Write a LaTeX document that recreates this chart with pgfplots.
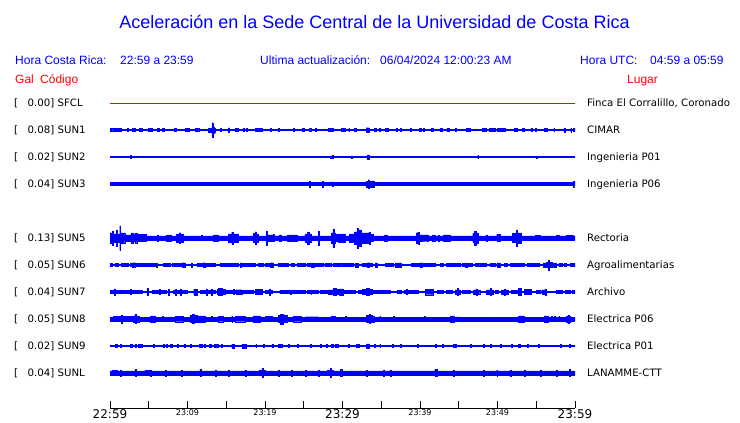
\documentclass[border=0pt]{standalone}
\usepackage{fontspec}
\setmainfont{Liberation Sans}
\newfontfamily\dejavu{DejaVu Sans}
\usepackage{pgfplots}
\usepackage{pgfplotstable}
\pgfplotsset{compat=1.18}
\usepgfplotslibrary{fillbetween}
\definecolor{tblue}{RGB}{0,0,255}
\definecolor{tred}{RGB}{255,0,0}

% envelopes: t = minutes after 22:59, a = half amplitude (px) held until next row
\pgfplotstableread[row sep=\\]{
t a\\ 0 1.6\\ 0.35 0.4\\ 0.6 1.6\\ 1.4 0.4\\ 2.2 1.6\\ 2.35 0.4\\ 2.85 1.6\\ 3.25 0.4\\ 3.8 1.6\\ 4.15 0.4\\
4.95 1.6\\ 5.45 0.4\\ 6.1 1.6\\ 6.35 0.4\\ 6.75 1.6\\ 7.0 0.4\\ 8.3 1.6\\ 8.6 0.4\\ 9.65 1.6\\ 10.2 0.4\\
11.0 1.6\\ 11.45 0.4\\ 12.7 1.8\\ 13.15 7.3\\ 13.27 1.8\\ 13.4 3\\ 13.5 1.8\\ 13.55 0.4\\ 14.25 1.6\\ 14.35 0.4\\
15.3 2.3\\ 15.42 0.4\\ 16.2 1.6\\ 16.6 0.4\\ 17.15 1.6\\ 17.25 0.4\\ 17.55 1.6\\ 17.65 0.4\\ 18.75 1.6\\ 19.65 0.4\\
20.65 1.6\\ 20.75 0.4\\ 21.75 1.6\\ 21.85 0.4\\ 23.65 1.6\\ 23.75 0.4\\ 24.75 1.6\\ 25.05 0.4\\ 25.7 1.6\\ 25.9 0.4\\
26.45 1.6\\ 26.55 0.4\\ 28.1 1.6\\ 28.75 0.4\\ 29.85 1.6\\ 30.4 0.4\\ 30.8 1.6\\ 30.9 0.4\\ 31.5 1.6\\ 31.7 0.4\\
33.05 2.3\\ 33.45 0.4\\ 34.1 1.6\\ 34.3 0.4\\ 34.7 1.6\\ 34.9 0.4\\ 35.5 1.6\\ 35.9 0.4\\ 36.95 1.6\\ 37.1 0.4\\
37.45 1.6\\ 37.55 0.4\\ 38.75 1.6\\ 38.85 0.4\\ 39.9 1.6\\ 40.1 0.4\\ 40.45 1.6\\ 40.55 0.4\\ 41.5 1.6\\ 41.7 0.4\\
42.55 1.6\\ 42.9 0.4\\ 43.45 1.6\\ 43.75 0.4\\ 44.55 1.6\\ 44.65 0.4\\ 46.0 1.6\\ 46.5 0.4\\ 48.0 1.6\\ 48.6 0.4\\
48.9 1.6\\ 49.7 0.4\\ 50.0 1.6\\ 50.95 0.4\\ 52.1 1.6\\ 52.5 0.4\\ 53.2 1.6\\ 53.4 0.4\\ 54.3 1.6\\ 54.5 0.4\\
54.9 1.6\\ 55.0 0.4\\ 56.05 1.6\\ 56.4 0.4\\ 57.25 1.6\\ 57.35 0.4\\ 58.55 2\\ 58.67 0.4\\ 59.45 2\\ 59.57 0.4\\
59.8 1.6\\ 60 1.6\\
}\sunone

\pgfplotstableread[row sep=\\]{
t a\\ 0 0.4\\ 2.65 1.5\\ 2.77 0.4\\ 28.4 1.2\\ 28.52 0.4\\ 28.65 1.5\\ 28.77 0.4\\ 31.15 1.2\\ 31.27 0.4\\
33.15 2\\ 33.45 0.4\\ 47.45 1.6\\ 47.57 0.4\\ 55.05 1.2\\ 55.17 0.4\\ 60 0.4\\
}\suntwo

\pgfplotstableread[row sep=\\]{
t a\\ 0 1.5\\ 25.75 2.7\\ 25.87 1.5\\ 27.35 2.7\\ 27.47 1.5\\ 28.65 2.3\\ 28.77 1.5\\ 33.0 2.8\\ 33.3 4.3\\
33.42 2.8\\ 33.8 3.2\\ 34.1 1.5\\ 59.8 2.7\\ 60 2.7\\
}\sunthree

\pgfplotstableread[row sep=\\]{
t a\\ 0 5\\ 0.3 7\\ 0.45 4\\ 0.8 8\\ 0.92 4\\ 1.25 12.3\\ 1.37 5\\ 1.9 3\\ 2.7 5\\ 3.0 3.5\\ 3.2 5\\ 3.45 3.5\\
4.7 2.2\\ 6.15 3\\ 6.27 2.2\\ 7.3 3\\ 7.9 2.2\\ 8.6 4\\ 8.95 5.3\\ 9.1 4\\ 9.5 2.2\\ 11.8 2.6\\ 11.92 2.2\\
13.3 3\\ 14.0 2.2\\ 15.3 4\\ 15.7 6\\ 15.85 4\\ 16.6 2.2\\ 18.5 4.5\\ 18.75 6.3\\ 18.9 4\\ 19.1 2.2\\ 20.15 7\\
20.27 3\\ 21.0 3.5\\ 21.2 2.2\\ 21.8 3\\ 22.1 2.2\\ 22.9 3\\ 24.1 2.2\\ 25.15 4\\ 25.5 6\\ 25.65 4\\ 26.0 2.2\\
26.85 7\\ 26.97 2.2\\ 28.55 5\\ 28.75 9\\ 28.87 5\\ 29.1 3.5\\ 29.5 4\\ 30.3 2.2\\ 30.9 4\\ 31.5 6\\ 31.85 10\\
32.0 8\\ 32.4 5\\ 33.4 6\\ 33.52 3.5\\ 34.0 2.2\\ 35.4 3\\ 35.7 2.2\\ 39.5 5\\ 39.7 6\\ 39.85 3\\ 40.8 3\\
41.1 2.2\\ 41.6 3\\ 41.9 2.2\\ 42.3 3\\ 42.5 2.2\\ 43.0 3\\ 43.9 2.2\\ 46.8 4.5\\ 47.05 7\\ 47.2 5\\ 47.5 2.2\\
48.5 3\\ 48.7 2.2\\ 49.9 3.5\\ 50.3 2.2\\ 51.9 4.5\\ 52.4 8\\ 52.55 5\\ 53.1 2.2\\ 54.9 2.6\\ 55.5 2.2\\
57.6 2.6\\ 58.0 2.2\\ 58.9 2.6\\ 59.8 2.2\\ 60 2.2\\
}\sunfive

\pgfplotstableread[row sep=\\]{
t a\\ 0 1.5\\ 0.3 0.5\\ 0.65 1.5\\ 1.1 0.5\\ 1.45 1.5\\ 2.3 0.5\\ 2.6 1.5\\ 2.9 2.3\\ 3.3 1.5\\ 4.1 0.5\\
4.3 1.5\\ 5.8 0.5\\ 6.0 2\\ 6.12 0.5\\ 6.9 1.5\\ 7.7 0.5\\ 8.0 1.5\\ 9.3 2.3\\ 9.7 0.5\\ 10.5 1.8\\ 10.62 0.5\\
11.2 1.5\\ 12.0 2.3\\ 12.3 1.5\\ 13.6 0.5\\ 14.2 1.5\\ 16.6 0.5\\ 16.8 2.3\\ 16.92 1.5\\ 18.3 0.5\\ 18.5 1.5\\
18.7 0.5\\ 19.1 1.5\\ 19.8 0.5\\ 20.0 1.5\\ 20.7 2.3\\ 21.0 0.5\\ 21.7 1.5\\ 23.0 0.5\\ 23.4 1.5\\ 23.8 0.5\\
24.2 1.5\\ 25.2 0.5\\ 25.4 1.5\\ 26.0 2\\ 26.3 1.5\\ 26.7 0.5\\ 26.9 1.5\\ 27.5 0.5\\ 27.7 1.5\\ 28.6 0.5\\
28.8 1.5\\ 29.9 0.5\\ 30.0 1.5\\ 31.4 0.5\\ 31.6 1.8\\ 32.0 0.5\\ 32.5 1.5\\ 33.2 2.3\\ 33.5 1.5\\ 33.8 0.5\\
34.2 2\\ 34.5 0.5\\ 35.5 1.5\\ 36.6 0.5\\ 36.8 2\\ 37.6 0.5\\ 38.9 1.5\\ 40.0 2.3\\ 40.3 1.5\\ 40.9 0.5\\
41.1 1.5\\ 41.9 0.5\\ 42.6 1.5\\ 43.0 0.5\\ 43.4 1.5\\ 44.1 0.5\\ 44.3 1.5\\ 45.2 0.5\\ 45.4 1.5\\ 45.8 2\\
46.1 1.5\\ 46.7 0.5\\ 47.1 1.5\\ 47.7 0.5\\ 47.9 1.5\\ 48.6 0.5\\ 49.0 1.5\\ 49.7 0.5\\ 49.9 2\\ 50.3 0.5\\
50.9 1.5\\ 51.2 0.5\\ 51.6 1.5\\ 52.0 0.5\\ 52.2 1.5\\ 53.5 0.5\\ 53.8 1.5\\ 54.2 0.5\\ 54.4 1.5\\ 55.4 0.5\\
55.9 2\\ 56.3 2.5\\ 56.6 5\\ 56.72 2.5\\ 57.0 2\\ 57.6 0.5\\ 57.9 1.5\\ 58.3 0.5\\ 58.65 1.5\\ 58.8 0.5\\
59.4 1.5\\ 60 1.5\\
}\sunsix

\pgfplotstableread[row sep=\\]{
t a\\ 0 1.65\\ 0.4 0.5\\ 0.5 3\\ 0.62 0.5\\ 0.65 1.65\\ 2.55 2.5\\ 2.67 1.65\\ 4.1 0.5\\ 4.75 3.5\\ 4.87 0.5\\
5.4 1.65\\ 5.8 0.5\\ 6.0 1.65\\ 6.4 2.5\\ 6.52 1.65\\ 7.3 0.5\\ 7.55 3\\ 7.67 0.5\\ 8.2 1.65\\ 8.4 2.7\\
8.52 1.65\\ 9.0 2.7\\ 9.12 1.65\\ 9.9 0.5\\ 10.8 2.8\\ 11.2 0.5\\ 11.6 1.65\\ 12.4 3\\ 12.52 1.65\\ 13.0 3\\
13.12 1.65\\ 13.6 0.5\\ 13.8 2.5\\ 14.0 3.5\\ 14.5 2.5\\ 14.8 1.65\\ 15.9 2.5\\ 16.02 1.65\\ 16.1 0.5\\ 16.3 2.3\\
17.0 0.5\\ 17.2 1.65\\ 18.5 0.5\\ 18.7 2.5\\ 19.6 0.5\\ 20.0 1.65\\ 20.6 3\\ 20.72 1.65\\ 20.9 0.5\\ 21.9 1.65\\
23.2 2\\ 23.32 1.65\\ 25.2 0.5\\ 25.4 1.65\\ 25.9 2\\ 26.02 1.65\\ 26.9 0.5\\ 27.1 1.65\\ 28.0 0.5\\ 28.2 2\\
28.8 3.5\\ 29.2 2.5\\ 29.6 3\\ 30.1 1.65\\ 31.6 0.5\\ 32.0 1.65\\ 32.5 2.5\\ 33.0 3.5\\ 33.5 2.5\\ 33.8 0.5\\
34.0 1.65\\ 36.1 0.5\\ 37.0 1.65\\ 37.6 0.5\\ 37.9 1.65\\ 38.2 2.5\\ 38.35 1.65\\ 38.7 0.5\\ 38.9 1.65\\ 39.8 0.5\\
40.7 2.7\\ 41.7 0.5\\ 42.2 1.65\\ 43.0 0.5\\ 43.4 1.65\\ 44.1 0.5\\ 44.5 2\\ 44.8 3.5\\ 44.92 2\\ 45.2 0.5\\
45.4 1.65\\ 46.5 0.5\\ 46.9 2\\ 47.2 3\\ 47.32 2\\ 47.7 0.5\\ 48.6 2\\ 49.0 3.5\\ 49.12 2\\ 49.5 0.5\\
49.7 1.65\\ 50.1 0.5\\ 50.5 2\\ 50.9 3\\ 51.02 2\\ 51.4 0.5\\ 51.8 1.65\\ 52.5 0.5\\ 52.7 3.5\\ 53.1 0.5\\
53.5 2.5\\ 54.4 0.5\\ 55.0 1.65\\ 55.5 0.5\\ 55.7 2\\ 56.1 3\\ 56.22 2\\ 56.3 0.5\\ 57.6 1.65\\ 58.3 0.5\\
58.7 1.65\\ 59.4 0.5\\ 59.6 1.65\\ 60 1.65\\
}\sunseven

\pgfplotstableread[row sep=\\]{
t a\\ 0 1.8\\ 0.4 2.5\\ 1.4 4\\ 1.52 2.5\\ 2.8 1.8\\ 3.0 3\\ 3.2 4.5\\ 3.32 3\\ 3.7 1.8\\ 5.2 3\\ 5.8 1.8\\
6.7 2.5\\ 6.82 1.8\\ 7.8 2.2\\ 7.92 1.8\\ 8.4 2.7\\ 9.5 1.8\\ 10.3 3.5\\ 10.6 4.5\\ 10.9 3.5\\ 11.2 3\\ 12.3 1.8\\
13.0 2.5\\ 13.12 1.8\\ 14.0 2.7\\ 14.6 1.8\\ 15.7 3\\ 15.82 1.8\\ 16.1 2.7\\ 17.4 1.8\\ 18.5 3\\ 19.4 1.8\\
20.0 2.5\\ 20.9 1.8\\ 21.7 3.5\\ 22.0 4.8\\ 22.4 3.5\\ 22.8 1.8\\ 23.6 2.7\\ 24.7 1.8\\ 25.2 2.3\\ 26.9 1.8\\
28.6 2.5\\ 29.0 1.8\\ 30.4 2.5\\ 30.52 1.8\\ 31.85 2.2\\ 32.0 1.8\\ 33.1 3.5\\ 33.4 4.5\\ 33.52 3.5\\ 33.8 1.8\\
34.0 2.8\\ 34.12 1.8\\ 34.8 2.5\\ 34.92 1.8\\ 36.6 2.5\\ 36.72 1.8\\ 39.6 2.2\\ 39.72 1.8\\ 40.6 2.5\\ 40.72 1.8\\
43.9 3\\ 44.4 1.8\\ 44.8 2.3\\ 44.92 1.8\\ 49.3 2.2\\ 49.42 1.8\\ 52.7 3\\ 53.4 1.8\\ 56.0 3\\ 56.6 1.8\\
56.95 2.5\\ 57.07 1.8\\ 57.3 2.5\\ 57.42 1.8\\ 57.9 2.5\\ 58.02 1.8\\ 58.9 3\\ 59.1 4\\ 59.22 3\\ 59.4 1.8\\ 60 1.8\\
}\suneight

\pgfplotstableread[row sep=\\]{
t a\\ 0 0.55\\ 0.65 1.5\\ 0.9 0.55\\ 1.3 1.5\\ 1.45 0.55\\ 2.6 1.5\\ 2.8 0.55\\ 3.2 1.5\\ 3.32 0.55\\ 3.6 1.5\\
4.1 0.55\\ 5.6 1.5\\ 5.72 0.55\\ 6.9 1.5\\ 7.02 0.55\\ 7.3 1.5\\ 7.42 0.55\\ 7.8 1.5\\ 8.0 0.55\\ 8.7 1.5\\
8.82 0.55\\ 9.6 1.5\\ 9.72 0.55\\ 10.3 1.5\\ 10.5 0.55\\ 11.5 1.5\\ 11.65 0.55\\ 11.8 1.5\\ 11.95 0.55\\ 12.1 1.5\\
12.3 0.55\\ 12.8 1.5\\ 13.1 0.55\\ 13.5 1.5\\ 14.0 0.55\\ 14.4 1.5\\ 14.52 0.55\\ 15.7 1.8\\ 16.0 0.55\\ 17.0 1.8\\
17.6 0.55\\ 18.8 1.5\\ 18.92 0.55\\ 19.8 1.5\\ 19.92 0.55\\ 20.9 1.5\\ 21.02 0.55\\ 21.7 1.5\\ 22.2 0.55\\ 23.0 1.5\\
23.12 0.55\\ 24.1 1.5\\ 24.3 0.55\\ 25.8 1.5\\ 25.92 0.55\\ 27.1 1.5\\ 27.22 0.55\\ 27.9 1.5\\ 28.02 0.55\\ 28.6 1.5\\
28.75 0.55\\ 29.0 1.5\\ 29.15 0.55\\ 29.35 1.5\\ 29.5 0.55\\ 30.7 1.5\\ 30.82 0.55\\ 31.8 1.5\\ 32.2 0.55\\ 33.1 2\\
33.5 0.55\\ 34.1 1.5\\ 34.22 0.55\\ 34.8 1.5\\ 34.92 0.55\\ 36.4 1.5\\ 36.52 0.55\\ 37.4 1.5\\ 37.52 0.55\\ 39.6 1.5\\
39.72 0.55\\ 42.0 1.5\\ 42.12 0.55\\ 42.9 1.5\\ 43.02 0.55\\ 44.3 1.5\\ 44.7 0.55\\ 46.5 1.5\\ 46.62 0.55\\ 48.2 1.5\\
48.32 0.55\\ 49.0 1.5\\ 49.12 0.55\\ 50.3 1.5\\ 50.42 0.55\\ 51.8 1.5\\ 51.92 0.55\\ 52.7 1.5\\ 52.9 0.55\\ 53.8 1.5\\
53.92 0.55\\ 55.3 1.5\\ 55.42 0.55\\ 58.1 1.5\\ 58.22 0.55\\ 59.3 1.5\\ 59.42 0.55\\ 60 0.55\\
}\sunnine

\pgfplotstableread[row sep=\\]{
t a\\ 0 2.1\\ 0.3 2.6\\ 0.9 2.1\\ 1.3 3\\ 1.42 2.1\\ 3.2 3.5\\ 3.32 2.1\\ 4.5 2.6\\ 5.2 3\\ 5.32 2.1\\ 7.1 3\\
7.22 2.1\\ 9.2 3\\ 9.32 2.1\\ 11.6 3.5\\ 11.72 2.1\\ 13.6 3\\ 13.72 2.1\\ 15.3 3\\ 15.42 2.1\\ 17.4 3\\ 17.52 2.1\\
19.2 2.6\\ 19.6 4.5\\ 19.72 2.6\\ 20.0 2.1\\ 21.7 3\\ 21.82 2.1\\ 23.4 3\\ 23.52 2.1\\ 25.2 3\\ 25.32 2.1\\ 26.9 3\\
27.02 2.1\\ 28.0 2.6\\ 28.4 4.5\\ 28.52 2.6\\ 28.8 2.1\\ 29.7 3.5\\ 29.9 2.1\\ 33.1 3\\ 33.22 2.1\\ 35.3 3\\
35.42 2.1\\ 36.1 3\\ 36.22 2.1\\ 41.9 3.5\\ 42.2 2.1\\ 44.3 3\\ 44.42 2.1\\ 48.2 3\\ 48.32 2.1\\ 49.9 3\\ 50.02 2.1\\
51.6 3\\ 51.72 2.1\\ 53.5 3\\ 53.62 2.1\\ 55.5 3\\ 55.62 2.1\\ 57.6 3\\ 57.72 2.1\\ 59.3 3.5\\ 59.42 2.1\\ 60 2.1\\
}\sunl

\newcommand{\trace}[2]{%
  \addplot[const plot, tblue, line width=0.35pt, name path=A#2] table[x=t, y expr=#2+\thisrow{a}] {#1};
  \addplot[const plot, tblue, line width=0.35pt, name path=B#2] table[x=t, y expr=#2-\thisrow{a}] {#1};
  \addplot[tblue] fill between[of=A#2 and B#2];
}
\newcommand{\bigt}{\fontsize{12}{12}\selectfont}
\newcommand{\smallt}{\fontsize{8}{8}\selectfont}
\newcommand{\lab}{\dejavu\fontsize{10.2}{12}\selectfont}
\newcommand{\rowlab}[4]{%
  \node[anchor=base west, inner sep=0pt, font=\lab] at (14,#1-3.7) {[};
  \node[anchor=base west, inner sep=0pt, font=\lab] at (27.5,#1-3.7) {#2] #3};
  \node[anchor=base west, inner sep=0pt, font=\lab] at (587,#1-3.7) {#4};}

\begin{document}
\begin{tikzpicture}[x=1pt,y=1pt]
\begin{axis}[
  at={(110pt,15pt)}, anchor=south west, scale only axis,
  width=465pt, height=318pt,
  xmin=0, xmax=60, ymin=15, ymax=333,
  axis x line*=bottom, axis y line=none, clip=false,
  xtick={0,5,...,60},
  xticklabels={{\bigt 22:59},{},{\smallt 23:09},{},{\smallt 23:19},{},{\bigt 23:29},{},{\smallt 23:39},{},{\smallt 23:49},{},{\bigt 23:59}},
  tick align=inside, major tick length=7pt,
  xtick style={black, line width=0.8pt},
  axis line style={black, line width=0.8pt},
  xticklabel style={font=\dejavu, anchor=north, inner sep=1pt},
]
\addplot[tred, line width=0.8pt] coordinates {(0,320) (60,320)};
\trace{\sunone}{293}
\trace{\suntwo}{266}
\trace{\sunthree}{239}
\trace{\sunfive}{185}
\trace{\sunsix}{158}
\trace{\sunseven}{131}
\trace{\suneight}{104}
\trace{\sunnine}{77}
\trace{\sunl}{50}
\end{axis}

\node[anchor=base, inner sep=0pt, text=tblue, font=\fontsize{18}{20}\selectfont] at (374.5,394) {Aceleración en la Sede Central de la Universidad de Costa Rica};

\begin{scope}[every node/.style={anchor=base west, inner sep=0pt, text=tblue, font=\fontsize{12}{14}\selectfont}]
\node at (15,358) {Hora Costa Rica:};
\node at (120,358) {22:59 a 23:59};
\node at (260,358) {Ultima actualización:};
\node at (380,358) {06/04/2024 12:00:23 AM};
\node at (580,358) {Hora UTC:};
\node at (650,358) {04:59 a 05:59};
\end{scope}
\begin{scope}[every node/.style={anchor=base west, inner sep=0pt, text=tred, font=\fontsize{12}{14}\selectfont}]
\node at (15,339) {Gal};
\node at (40,339) {Código};
\node at (627,339) {Lugar};
\end{scope}

\rowlab{320}{0.00}{SFCL}{Finca El Corralillo, Coronado}
\rowlab{293}{0.08}{SUN1}{CIMAR}
\rowlab{266}{0.02}{SUN2}{Ingenieria P01}
\rowlab{239}{0.04}{SUN3}{Ingenieria P06}
\rowlab{185}{0.13}{SUN5}{Rectoria}
\rowlab{158}{0.05}{SUN6}{Agroalimentarias}
\rowlab{131}{0.04}{SUN7}{Archivo}
\rowlab{104}{0.05}{SUN8}{Electrica P06}
\rowlab{77}{0.02}{SUN9}{Electrica P01}
\rowlab{50}{0.04}{SUNL}{LANAMME-CTT}
\pgfresetboundingbox
\path[use as bounding box] (0,0) rectangle (740,423);
\end{tikzpicture}
\end{document}
